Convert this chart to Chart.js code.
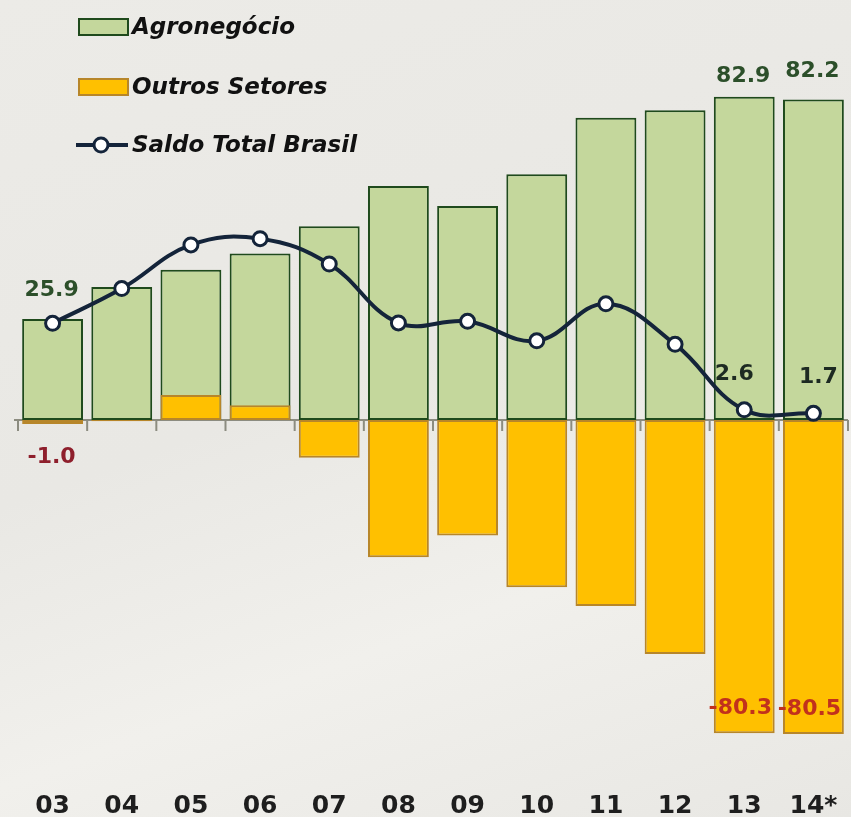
<!DOCTYPE html>
<html>
<head>
<meta charset="utf-8">
<script src="https://cdn.jsdelivr.net/npm/chart.js@4.4.1/dist/chart.umd.min.js"></script>
<style>
  html, body { margin: 0; padding: 0; overflow: hidden; }
  body {
    width: 851px; height: 817px;
    background: linear-gradient(160deg, #ecebe7 0%, #e9e8e4 45%, #f1f0ec 70%, #e8e7e3 100%);
  }
  canvas { display: block; }
</style>
</head>
<body>
<canvas id="chartSaldo" width="858" height="817"></canvas>
<script>
const anos = ['03', '04', '05', '06', '07', '08', '09', '10', '11', '12', '13', '14*'];
const agronegocio = [25.9, 34.1, 38.5, 42.7, 49.7, 60.0, 54.9, 63.0, 77.5, 79.4, 82.9, 82.2];
const outrosSetores = [-1.0, -0.3, 6.4, 3.8, -9.7, -35.2, -29.6, -42.9, -47.7, -60.0, -80.3, -80.5];
const saldoTotal = [24.8, 33.7, 44.9, 46.5, 40.0, 24.9, 25.3, 20.3, 29.8, 19.4, 2.6, 1.7];

// which points carry a value label
const rotulosAgro = [0, 10, 11];
const rotulosOutros = [0, 10, 11];
const rotulosSaldo = [10, 11];

const fonte = '"DejaVu Sans", sans-serif';

// zero line with small tick marks between categories
const linhaZero = {
    id: 'linhaZero',
    beforeDatasetsDraw(chart) {
        const { ctx, chartArea, scales: { x, y } } = chart;
        const y0 = y.getPixelForValue(0);
        ctx.save();
        ctx.strokeStyle = '#8c8c80';
        ctx.lineWidth = 2;
        ctx.beginPath();
        ctx.moveTo(chartArea.left - 4, y0);
        ctx.lineTo(chartArea.right, y0);
        const passo = x.getPixelForValue(1) - x.getPixelForValue(0);
        for (let i = 0; i <= anos.length; i++) {
            const px = x.getPixelForValue(0) - passo / 2 + i * passo;
            ctx.moveTo(px, y0);
            ctx.lineTo(px, y0 + 11);
        }
        ctx.stroke();
        ctx.restore();
    }
};

const rotulos = {
    id: 'rotulos',
    afterDatasetsDraw(chart) {
        const { ctx } = chart;
        ctx.save();
        ctx.font = 'bold 22px ' + fonte;
        ctx.textAlign = 'center';
        ctx.textBaseline = 'middle';

        const mAgro = chart.getDatasetMeta(0);
        rotulosAgro.forEach(i => {
            const el = mAgro.data[i];
            ctx.fillStyle = '#2c4f2a';
            const dy = i === 0 ? 29 : (i === 11 ? 28 : 20);
            ctx.fillText(agronegocio[i].toFixed(1), el.x - 1, el.y - dy);
        });

        const mOutros = chart.getDatasetMeta(1);
        rotulosOutros.forEach(i => {
            const el = mOutros.data[i];
            if (i === 0) {
                ctx.fillStyle = '#8e1f2c';
                ctx.fillText(outrosSetores[i].toFixed(1), el.x - 1, el.y + 33);
            } else {
                ctx.fillStyle = '#c2311c';
                ctx.fillText(outrosSetores[i].toFixed(1), el.x - 4, el.y - 25);
            }
        });

        const mSaldo = chart.getDatasetMeta(2);
        rotulosSaldo.forEach(i => {
            const el = mSaldo.data[i];
            ctx.fillStyle = '#1d2a22';
            const dx = i === 11 ? 5 : -10;
            ctx.fillText(saldoTotal[i].toFixed(1), el.x + dx, el.y - 36);
        });
        ctx.restore();
    }
};

// vertical legend at top left
const legenda = {
    id: 'legenda',
    afterDraw(chart) {
        const { ctx } = chart;
        const ds = chart.data.datasets;
        const linhas = [27, 87, 145];
        ctx.save();
        ctx.font = 'italic bold 23px ' + fonte;
        ctx.textBaseline = 'middle';
        ctx.textAlign = 'left';
        ds.forEach((d, k) => {
            const yy = linhas[k];
            if (d.type === 'line') {
                ctx.strokeStyle = d.borderColor;
                ctx.lineWidth = 4;
                ctx.beginPath();
                ctx.moveTo(76, yy);
                ctx.lineTo(128, yy);
                ctx.stroke();
                ctx.beginPath();
                ctx.arc(101, yy, 7, 0, Math.PI * 2);
                ctx.fillStyle = '#ffffff';
                ctx.fill();
                ctx.lineWidth = 3;
                ctx.stroke();
            } else {
                ctx.fillStyle = d.backgroundColor;
                ctx.fillRect(79, yy - 8, 49, 16);
                ctx.strokeStyle = d.borderColor;
                ctx.lineWidth = 2;
                ctx.strokeRect(79, yy - 8, 49, 16);
            }
            ctx.fillStyle = '#111111';
            ctx.fillText(d.label, 132, yy + 1);
        });
        ctx.restore();
    }
};

const ctx = document.getElementById('chartSaldo').getContext('2d');

const chartSaldo = new Chart(ctx, {
    type: 'bar',
    data: {
        labels: anos,
        datasets: [{
            label: 'Agronegócio',
            data: agronegocio,
            backgroundColor: '#c4d79c',
            borderColor: '#1f4a1c',
            borderWidth: 2,
            borderSkipped: false,
            order: 3
        }, {
            label: 'Outros Setores',
            data: outrosSetores,
            backgroundColor: '#ffc000',
            borderColor: '#b7862a',
            borderWidth: 2,
            borderSkipped: false,
            order: 2
        }, {
            type: 'line',
            label: 'Saldo Total Brasil',
            data: saldoTotal,
            borderColor: '#14243a',
            borderWidth: 4,
            tension: 0.4,
            pointRadius: 7,
            pointBorderWidth: 3,
            pointBackgroundColor: '#ffffff',
            pointBorderColor: '#14243a',
            order: 1
        }]
    },
    options: {
        responsive: false,
        animation: false,
        layout: { padding: { left: 18, right: 2, top: 49.5, bottom: 0 } },
        datasets: {
            bar: { barPercentage: 0.88, categoryPercentage: 1 }
        },
        plugins: {
            legend: { display: false },
            tooltip: { enabled: false }
        },
        scales: {
            x: {
                stacked: true,
                grid: { display: false, drawTicks: false },
                border: { display: false },
                afterFit(scale) { scale.height = 46; },
                ticks: {
                    padding: 20,
                    color: '#1e1e1e',
                    font: { family: fonte, size: 25, weight: 'bold' }
                }
            },
            y: {
                stacked: false,
                display: false,
                min: -90,
                max: 95
            }
        }
    },
    plugins: [linhaZero, rotulos, legenda]
});
</script>
</body>
</html>
